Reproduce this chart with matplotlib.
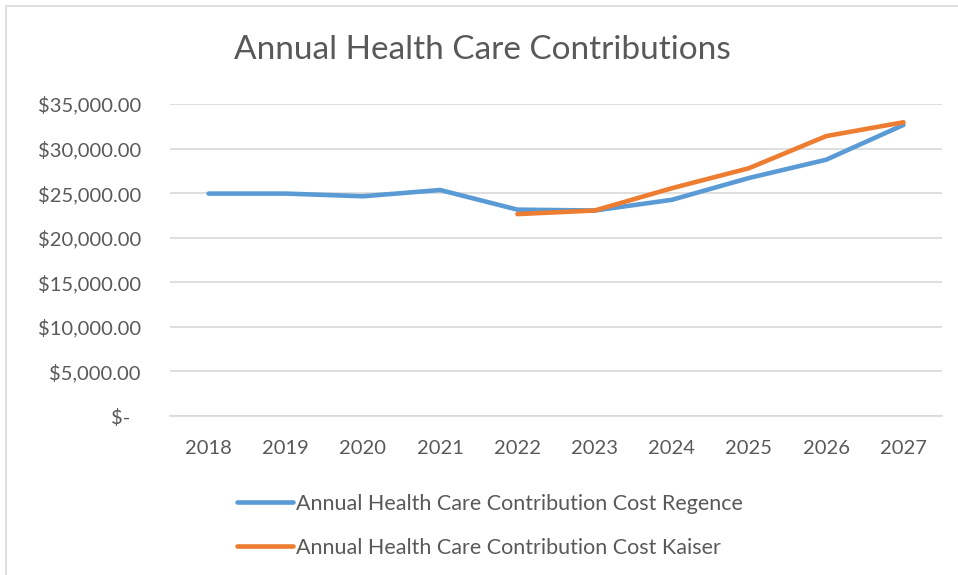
import numpy as np
import matplotlib.pyplot as plt
from matplotlib.ticker import FuncFormatter
from matplotlib.patches import Rectangle

plt.rcParams['font.family'] = ['Lato', 'DejaVu Sans']

years = ['2018', '2019', '2020', '2021', '2022', '2023', '2024', '2025', '2026', '2027']
regence = [24950, 24950, 24650, 25350, 23150, 23050, 24250, 26700, 28750, 32650]
kaiser = [np.nan, np.nan, np.nan, np.nan, 22650, 23050, 25550, 27800, 31400, 32950]

W, H = 958, 575
fig = plt.figure(figsize=(W / 100, H / 100), dpi=100)

# chart area border
fig.patches.append(Rectangle((6 / W, -0.05), 1.1, 1 - 6 / H + 0.05,
                             transform=fig.transFigure, fill=False,
                             edgecolor='#d9d9d9', linewidth=1.2))

ax = fig.add_axes([170 / W, (H - 416) / H, 772 / W, 312 / H])
x = np.arange(len(years))
ax.plot(x, regence, color='#5B9BD5', linewidth=3.3, solid_capstyle='round',
        label='Annual Health Care Contribution Cost Regence')
ax.plot(x, kaiser, color='#ED7D31', linewidth=3.3, solid_capstyle='round',
        label='Annual Health Care Contribution Cost Kaiser')

ax.set_xlim(-0.5, len(years) - 0.5)
ax.set_ylim(0, 35000)
ax.set_yticks(np.arange(0, 35001, 5000))
ax.set_xticks(x)
ax.set_xticklabels(years)


def money(v, pos):
    if v == 0:
        return '$-  '
    return '${:,.2f}'.format(v)


ax.yaxis.set_major_formatter(FuncFormatter(money))
ax.grid(axis='y', color='#d9d9d9', linewidth=1.2)
ax.set_axisbelow(True)
for s in ['top', 'right', 'left']:
    ax.spines[s].set_visible(False)
ax.spines['bottom'].set_color('#d9d9d9')
ax.spines['bottom'].set_linewidth(1.2)
ax.tick_params(length=0, labelsize=14.5, labelcolor='#595959')
ax.tick_params(axis='y', pad=21)
ax.tick_params(axis='x', pad=17)

fig.text(482 / W, 1 - 50 / H, 'Annual Health Care Contributions',
         ha='center', va='center', fontsize=24, color='#595959')

fig.legend(loc='upper left', bbox_to_anchor=(237 / W, 1 - 494 / H),
           frameon=False, fontsize=15.5, labelcolor='#595959',
           borderpad=0, borderaxespad=0,
           handlelength=2.6, handletextpad=0.15, labelspacing=1.1)

fig.savefig('out.png', dpi=100)
